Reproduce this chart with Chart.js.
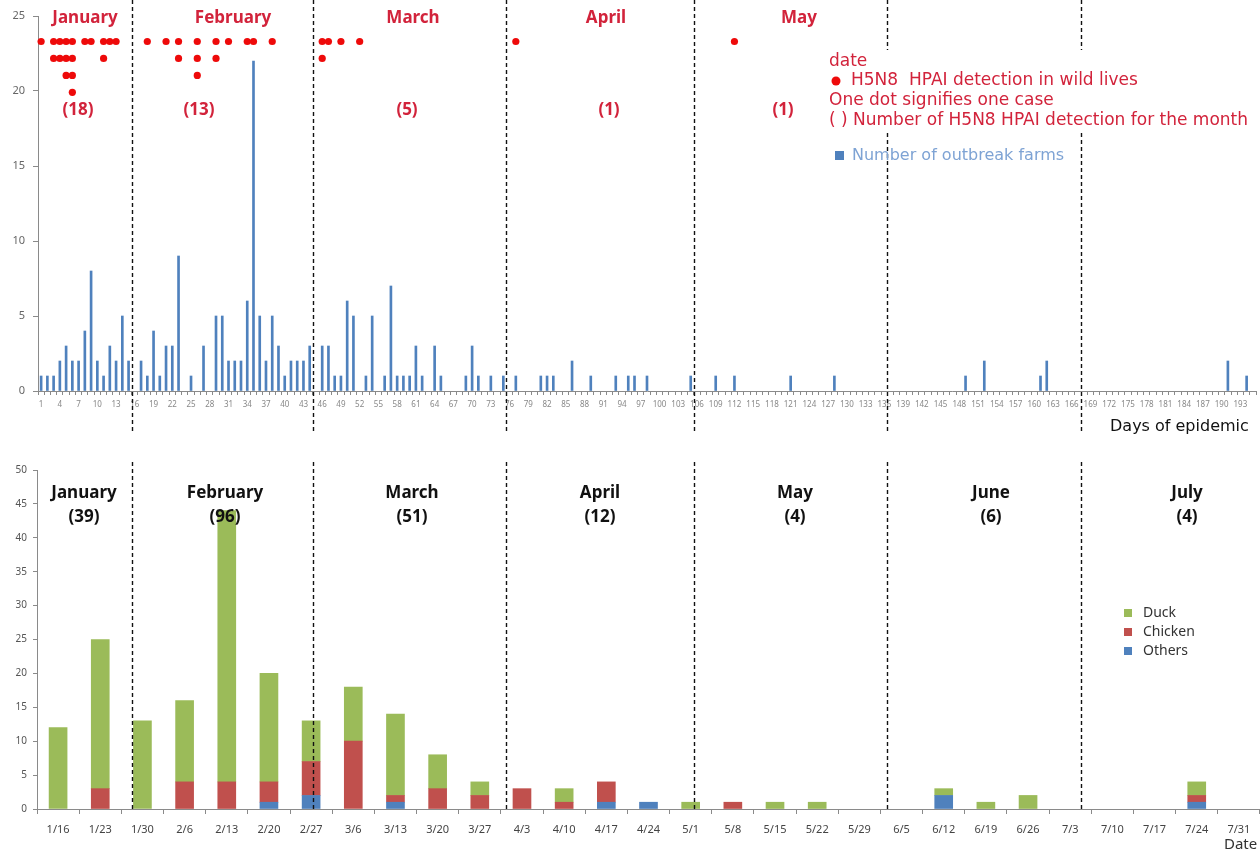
<!DOCTYPE html>
<html>
<head>
<meta charset="utf-8">
<script src="https://cdn.jsdelivr.net/npm/chart.js@4.4.1/dist/chart.umd.min.js"></script>
<style>
  body { margin:0; background:#fff; }
  #wrap { position:relative; width:1260px; height:853px; overflow:hidden; }
  canvas { position:absolute; left:0; }
  #topChart { top:0; }
  #bottomChart { top:450px; }
</style>
</head>
<body>
<div id="wrap">
  <canvas id="topChart" width="1260" height="450" style="width:1260px;height:450px"></canvas>
  <canvas id="bottomChart" width="1260" height="403" style="width:1260px;height:403px"></canvas>
</div>
<script>
// ---- top chart: daily outbreak farms + wild bird detections ----
var nDays = 195
var dayLabels = []
for (let d = 1; d <= nDays; d++) dayLabels.push(String(d))

// days with outbreak farms and how many
const farmDays   = [1,2,3,4,5,6,7,8,9,10,11,12,13,14,15,
                    17,18,19,20,21,22,23,25,27,29,30,31,32,33,34,35,36,37,38,39,40,41,42,43,44,
                    46,47,48,49,50,51,53,54,56,57,58,59,60,61,62,64,65,69,70,71,73,75,
                    77,81,82,83,86,89,93,95,96,98,105,109,112,121,128,149,152,161,162,191,194]
const farmCounts = [1,1,1,2,3,2,2,4,8,2,1,3,2,5,2,
                    2,1,4,1,3,3,9,1,3,5,5,2,2,2,6,22,5,2,5,3,1,2,2,2,3,
                    3,3,1,1,6,5,1,5,1,7,1,1,1,3,1,3,1,1,3,1,1,1,
                    1,1,1,1,2,1,1,1,1,1,1,1,1,1,1,1,2,1,2,2,1]

// H5N8 detections in wild birds (day, number of cases that day)
const wildDays   = [1,3,4,5,6,8,9,11,12,13, 18,21,23,26,29,31,34,35,38, 46,47,49,52, 77, 112]
const wildCounts = [1,2,2,3,4,1,1,2,1,1,   1,1,2,3,2,1,1,1,1,         2,1,1,1,     1,  1]

const topMonths      = ['January','February','March','April','May']
const topMonthCounts = [18, 13, 5, 1, 1]

// ---- bottom chart: weekly outbreaks by species ----
const weeks   = ['1/16','1/23','1/30','2/6','2/13','2/20','2/27','3/6','3/13','3/20','3/27','4/3','4/10','4/17','4/24',
                 '5/1','5/8','5/15','5/22','5/29','6/5','6/12','6/19','6/26','7/3','7/10','7/17','7/24','7/31']
const duck    = [12,22,13,12,40,16,6,8,12,5,2,0,2,0,0, 1,0,1,1,0,0,1,1,2,0,0,0,2,0]
const chicken = [0,3,0,4,4,3,5,10,1,3,2,3,1,3,0, 0,1,0,0,0,0,0,0,0,0,0,0,1,0]
const others  = [0,0,0,0,0,1,2,0,1,0,0,0,0,1,1, 0,0,0,0,0,0,2,0,0,0,0,0,1,0]

const bottomMonths      = ['January','February','March','April','May','June','July']
const bottomMonthCounts = [39, 96, 51, 12, 4, 6, 4]

// month separators: after day N
const monthEnds = [15, 44, 75, 105, 136, 167]

var RED = '#d2233b'
var DOT = '#ee0a0a'

// zero -> null so empty days/weeks draw nothing
const nz = arr => arr.map(v => (v ? v : null))

// build daily series
var farmSeries = dayLabels.map(() => null)
farmDays.forEach((d, i) => { farmSeries[d - 1] = farmCounts[i] })

var wildPoints = []
wildDays.forEach((d, i) => {
  for (let k = 0; k < wildCounts[i]; k++) {
    wildPoints.push({ x: String(d), y: 23.3 - k * 1.13 })
  }
})

function sepX(chart) {
  const xs = chart.scales.x
  const w = (xs.right - xs.left) / nDays
  return monthEnds.map(n => xs.left + n * w)
}

function dashed(ctx, xs, y0, y1) {
  ctx.save()
  ctx.strokeStyle = '#111'
  ctx.lineWidth = 1.4
  ctx.setLineDash([4, 3])
  xs.forEach(x => {
    ctx.beginPath()
    ctx.moveTo(Math.round(x) + 0.5, y0)
    ctx.lineTo(Math.round(x) + 0.5, y1)
    ctx.stroke()
  })
  ctx.restore()
}

var topOverlay = {
  id: 'topOverlay',
  afterDraw(chart) {
    const ctx = chart.ctx
    dashed(ctx, sepX(chart), 0, 432)
    ctx.save()
    ctx.textAlign = 'center'
    ctx.textBaseline = 'middle'
    ctx.fillStyle = RED
    ctx.font = 'bold 17px "Noto Sans"'
    const mx = [85, 233, 413, 606, 799]
    const cx = [78, 199, 407, 609, 783]
    topMonths.forEach((m, i) => {
      ctx.fillText(m, mx[i], 18)
      ctx.fillText('(' + topMonthCounts[i] + ')', cx[i], 110)
    })
    // legend block (white box hides the separators behind it)
    ctx.fillStyle = '#fff'
    ctx.fillRect(824, 50, 434, 82)
    ctx.textAlign = 'left'
    ctx.fillStyle = RED
    ctx.font = '17px "DejaVu Sans"'
    ctx.fillText('date', 829, 62)
    ctx.beginPath()
    ctx.fillStyle = DOT
    ctx.arc(836, 81, 4.5, 0, Math.PI * 2)
    ctx.fill()
    ctx.fillStyle = RED
    ctx.fillText('H5N8  HPAI detection in wild lives', 851, 81)
    ctx.fillText('One dot signifies one case', 829, 101)
    ctx.fillText('( ) Number of H5N8 HPAI detection for the month', 829, 121)
    ctx.fillStyle = '#4f81bd'
    ctx.fillRect(835, 151, 9, 9)
    ctx.fillStyle = '#7ea3d4'
    ctx.font = '16px "DejaVu Sans"'
    ctx.fillText('Number of outbreak farms', 852, 156)
    ctx.fillStyle = '#111'
    ctx.fillText('Days of epidemic', 1110, 427)
    ctx.restore()
  }
}

var topChart = new Chart(document.getElementById('topChart').getContext('2d'), {
  type: 'bar',
  data: {
    labels: dayLabels,
    datasets: [
      {
        type: 'line',
        label: 'H5N8 HPAI detection in wild lives',
        data: wildPoints,
        showLine: false,
        pointRadius: 3.6,
        pointBackgroundColor: DOT,
        pointBorderWidth: 0,
        order: 0
      },
      {
        label: 'Number of outbreak farms',
        data: farmSeries,
        backgroundColor: '#4f81bd',
        barThickness: 2,
        order: 1
      }
    ]
  },
  options: {
    responsive: false,
    animation: false,
    layout: { padding: { top: 16, right: 3 } },
    plugins: { legend: { display: false }, tooltip: { enabled: false } },
    scales: {
      x: {
        grid: { drawOnChartArea: false, tickLength: 4, color: '#8a8a8a', offset: true },
        border: { color: '#8a8a8a' },
        ticks: {
          autoSkip: false, maxRotation: 0, minRotation: 0, padding: 5,
          color: '#888', font: { size: 8, family: 'Noto Sans' },
          callback: (v, i) => (i % 3 === 0 ? dayLabels[i] : '')
        },
        afterFit: s => { s.height = 59 }
      },
      y: {
        min: 0, max: 25,
        grid: { drawOnChartArea: false, tickLength: 5, color: '#8a8a8a' },
        border: { color: '#8a8a8a' },
        ticks: { stepSize: 5, padding: 8, color: '#666', font: { size: 11, family: 'Noto Sans' } },
        afterFit: s => { s.width = 38 }
      }
    }
  },
  plugins: [topOverlay]
})

var bottomOverlay = {
  id: 'bottomOverlay',
  afterDraw(chart) {
    const ctx = chart.ctx
    dashed(ctx, sepX(topChart), 12, 362)
    ctx.save()
    ctx.textAlign = 'center'
    ctx.textBaseline = 'middle'
    ctx.fillStyle = '#111'
    ctx.font = 'bold 17px "Noto Sans"'
    const mx = [84, 225, 412, 600, 795, 991, 1187]
    bottomMonths.forEach((m, i) => {
      ctx.fillText(m, mx[i], 43)
      ctx.fillText('(' + bottomMonthCounts[i] + ')', mx[i], 67)
    })
    // legend
    const items = [['Duck', '#9bbb59'], ['Chicken', '#c0504d'], ['Others', '#4f81bd']]
    ctx.textAlign = 'left'
    ctx.font = '14px "Noto Sans"'
    items.forEach((it, i) => {
      const y = 163 + i * 19
      ctx.fillStyle = it[1]
      ctx.fillRect(1124, y - 4, 8, 8)
      ctx.fillStyle = '#333'
      ctx.fillText(it[0], 1143, y)
    })
    ctx.font = '15px "Noto Sans"'
    ctx.fillText('Date', 1224, 395)
    ctx.restore()
  }
}

var bottomChart = new Chart(document.getElementById('bottomChart').getContext('2d'), {
  type: 'bar',
  data: {
    labels: weeks,
    datasets: [
      { label: 'Others',  data: nz(others),  backgroundColor: '#4f81bd', barThickness: 18 },
      { label: 'Chicken', data: nz(chicken), backgroundColor: '#c0504d', barThickness: 18 },
      { label: 'Duck',    data: nz(duck),    backgroundColor: '#9bbb59', barThickness: 18 }
    ]
  },
  options: {
    responsive: false,
    animation: false,
    layout: { padding: { top: 20, right: 0 } },
    plugins: { legend: { display: false }, tooltip: { enabled: false } },
    scales: {
      x: {
        stacked: true,
        grid: { drawOnChartArea: false, tickLength: 5, color: '#8a8a8a', offset: true },
        border: { color: '#8a8a8a' },
        ticks: { autoSkip: false, maxRotation: 0, minRotation: 0, padding: 9, color: '#444', font: { size: 11, family: 'Noto Sans' } },
        afterFit: s => { s.height = 44 }
      },
      y: {
        stacked: true,
        min: 0, max: 50,
        grid: { drawOnChartArea: false, tickLength: 4, color: '#8a8a8a' },
        border: { color: '#8a8a8a' },
        ticks: { stepSize: 5, padding: 6, color: '#555', font: { size: 10, family: 'Noto Sans' } },
        afterFit: s => { s.width = 37 }
      }
    }
  },
  plugins: [bottomOverlay]
})
</script>
</body>
</html>
